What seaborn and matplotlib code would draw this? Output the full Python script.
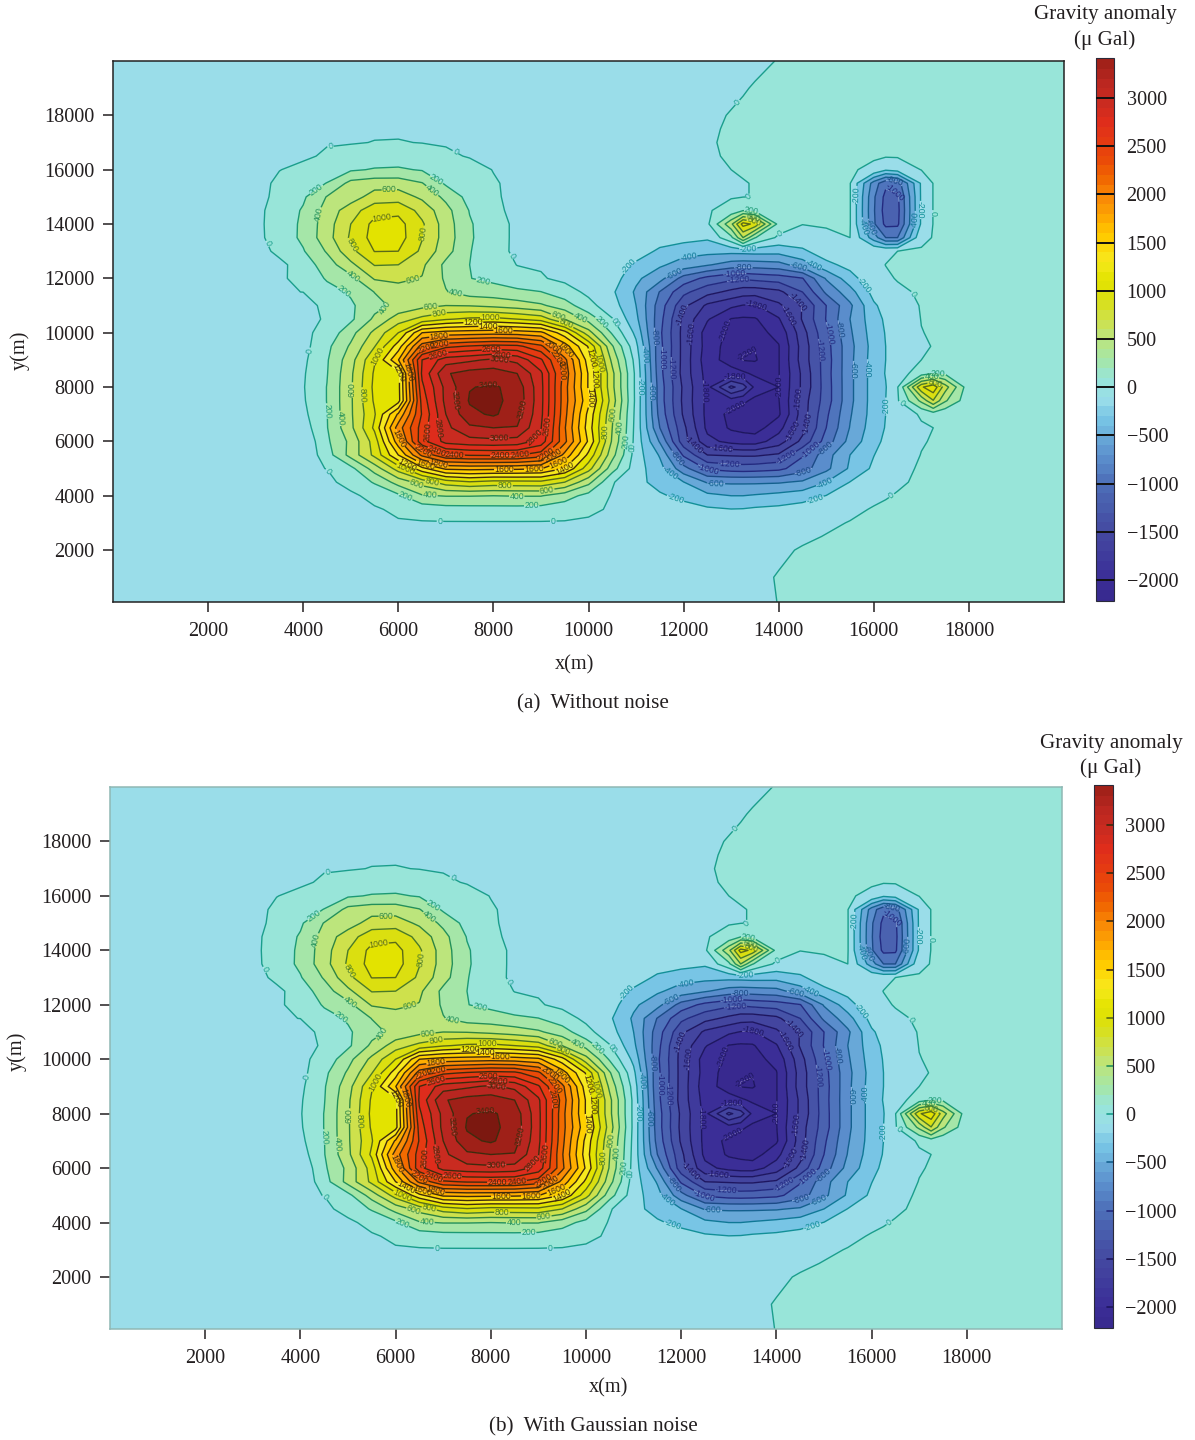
"""Gravity anomaly maps: without noise and with Gaussian noise."""

import numpy as np
import matplotlib
matplotlib.use("Agg")
import matplotlib.pyplot as plt
from matplotlib.cm import ScalarMappable
from matplotlib.colors import Normalize
import seaborn as sns

# sample positions (m)
grid_x = [0, 1500, 3000, 3500, 4000, 4500, 5000, 5500, 6000, 6500, 7000, 7500, 8000,
          8500, 9000, 9500, 10000, 10500, 11000, 11500, 12000, 12500, 13000, 13250,
          13500, 14000, 14500, 15000, 15500, 16000, 16250, 16500, 17000, 17250, 17500,
          18000, 18500, 19250, 20000]
grid_y = [20000, 19000, 18000, 17500, 17000, 16500, 16000, 15500, 15000, 14500, 14000,
          13500, 13000, 12500, 12000, 11500, 11000, 10500, 10000, 9500, 9000, 8500,
          8000, 7500, 7000, 6500, 6000, 5500, 5000, 4500, 4000, 3500, 3000, 2500, 2000,
          1000, 0]

# gravity anomaly (micro Gal), estimated from the contour lines, one row per grid_y
anomaly = [
    [-15] * 25 + [3] + [15] * 13,
    [-15] * 23 + [-5, 5] + [15] * 14,
    [-15] * 22 + [4, 12] + [15] * 15,
    [-15] * 21 + [-11, 9, 15] + [15] * 15,
    [-15, -15, -15, -15, -15, -12, -8, 3, 5, -3, -12, -15, -15, -15, -15, -15, -15, -15, -15] + [-15, -15, -8, 12] + [15] * 16,
    [-15, -15, -15, -15, -30, 25, 55, 90, 95, 65, 25, -10, -15, -15, -15, -15, -15, -15, -15] + [-15, -15, -11, 9] + [15] * 16,
    [-15, -15, -15, -5, 50, 110, 175, 215, 225, 185, 120, 60, -5, -15, -15, -15, -15, -15, -15] + [-15, -15, -15, 0, 10, 15, 15, 15, 15, 15, -30, -170, -120, 5] + [15] * 6,
    [-15, -15, -80, 45, 120, 205, 460, 510, 510, 410, 170, 90, 15, -40, -15, -15, -15, -15, -15] + [-15, -15, -15, -15, -5, 5, 15, 15, 15, 8, -690, -950, -900, -170, 5] + [15] * 5,
    [-15, -15, -70, 55, 170, 410, 500, 690, 700, 560, 350, 130, 50, -100, -15, -15, -15, -15, -15] + [-15, -15, -15, -10, -3, 3, 15, 15, 15, 10, -770, -1060, -1040, -170, 5] + [15] * 5,
    [-15, -15, -50, 80, 220, 480, 710, 920, 950, 730, 470, 190, 70, -80, -15, -15, -15, -15, -15] + [-15, -15, -15, 60, 190, 150, 15, 15, 15, 10, -780, -1090, -1060, -170, 5] + [15] * 5,
    [-15, -15, -50, 90, 235, 510, 800, 1060, 1070, 830, 500, 220, 80, -40, -15, -15, -15, -15, -15] + [-15, -15, -40, 550, 1080, 950, 130, 3, 15, 10, -770, -1050, -1040, -170, 5] + [15] * 5,
    [-15, -15, -52, 85, 240, 520, 830, 1080, 1090, 810, 510, 225, 80, -40, -15, -15, -15, -15, -20] + [-40, -120, -170, 150, 600, 210, -40, -60, -35, 0, -500, -800, -800, -30, 5] + [15] * 5,
    [-15, -15, -89, 50, 185, 420, 740, 1005, 1000, 760, 480, 210, 75, -40, -15, -15, -15, -15, -30] + [-260, -330, -340, -340, -330, -320, -330, -240, -80, -30, -20, -15, 0, 12] + [15] * 6,
    [-15, -15, -15, -50, 95, 300, 550, 810, 800, 640, 350, 200, 110, -5, -15, -15, -15, -30, -260] + [-370, -480, -580, -690, -710, -700, -670, -500, -260, -130, -20, 1, 8] + [15] * 7,
    [-15, -15, -15, -15, 30, 225, 340, 620, 650, 590, 370, 205, 150, 80, 15, -40, -15, -100, -360] + [-530, -880, -1060, -1150, -1170, -1140, -1100, -1010, -580, -290, -30, -10, 4] + [15] * 7,
    [-15, -15, -15, -15, 2, 115, 225, 405, 505, 500, 410, 310, 290, 240, 205, 80, -40, -170, -430] + [-810, -1150, -1330, -1450, -1510, -1520, -1450, -1200, -760, -480, -130, -40, -12, 8] + [15] * 6,
    [-15, -15, -15, -15, -110, 75, 170, 330, 460, 540, 600, 590, 550, 500, 430, 300, 60, -110, -400] + [-900, -1350, -1640, -1760, -1810, -1820, -1640, -1390, -1000, -640, -230, -130, -70, 8] + [15] * 6,
    [-15, -15, -15, -15, -55, 20, 160, 440, 700, 860, 980, 1040, 1060, 1000, 920, 600, 330, 10, -350] + [-930, -1460, -1780, -2010, -2030, -2020, -1820, -1380, -990, -600, -280, -170, -90, 3, 12] + [15] * 5,
    [-15, -15, -15, -25, -40, 60, 330, 650, 1000, 1600, 1680, 1700, 1720, 1700, 1650, 1280, 680, 170, -250] + [-960, -1470, -1900, -2040, -2060, -2060, -1950, -1480, -1040, -630, -300, -190, -130, -3, 10] + [15] * 5,
    [-15, -15, -15, -25, -65, 150, 430, 790, 1300, 2100, 2350, 2420, 2470, 2450, 2250, 1700, 1180, 420, -150] + [-940, -1470, -1890, -2090, -2180, -2190, -2010, -1520, -1080, -660, -320, -200, -130, -30, 8] + [15] * 5,
    [-15, -15, -15, -25, -40, 180, 520, 980, 1590, 2600, 2900, 2960, 3040, 2940, 2630, 2060, 1300, 550, -80] + [-950, -1470, -1920, -2080, -2210, -2220, -2010, -1510, -1100, -650, -310, -200, -110, 0, 12] + [15] * 5,
    [-15, -15, -15, -25, -21, 190, 560, 1030, 1130, 2640, 3180, 3280, 3300, 3200, 2840, 2120, 1380, 650, -50] + [-930, -1480, -1880, -1920, -1960, -2040, -2010, -1560, -1090, -650, -310, -190, -90, 100, 195, 170, 15, 15, 15, 15],
    [-15, -15, -15, -25, -13, 205, 570, 1050, 1130, 2560, 3060, 3390, 3430, 3320, 2860, 2080, 1380, 650, -50] + [-900, -1440, -1860, -1350, -1500, -1850, -2000, -1560, -1100, -650, -310, -210, -10, 970, 1150, 690, 70, 15, 15, 15],
    [-15, -15, -15, -25, -22, 205, 570, 1030, 1120, 2480, 3060, 3420, 3440, 3340, 2860, 2080, 1450, 700, -50] + [-900, -1450, -1860, -1880, -1950, -2060, -2010, -1500, -1100, -650, -310, -200, -20, 450, 790, 430, 60, 15, 15, 15],
    [-15, -15, -15, -25, -49, 195, 570, 980, 1630, 2420, 3000, 3350, 3430, 3280, 2850, 2060, 1340, 630, -60] + [-870, -1430, -1860, -2060, -2130, -2160, -2030, -1500, -1040, -620, -310, -200, -120, 25, 100, 40, 15, 15, 15, 15],
    [-15, -15, -15, -25, -98, 190, 550, 1040, 1900, 2490, 2950, 3160, 3200, 3190, 2810, 2020, 1300, 600, -70] + [-800, -1350, -1850, -2030, -2060, -2090, -1870, -1480, -1000, -590, -290, -190, -100, -25, 0, 10, 15, 15, 15, 15],
    [-15, -15, -15, -25, -170, 165, 450, 890, 1720, 2530, 2870, 2930, 2950, 2920, 2720, 2050, 1370, 570, -80] + [-620, -1320, -1740, -1860, -1890, -1890, -1700, -1340, -910, -530, -260, -160, -90, -8, 8, 15, 15, 15, 15, 15],
    [-15, -15, -15, -25, -165, 110, 470, 850, 1400, 2050, 2370, 2420, 2430, 2420, 2300, 1740, 1150, 470, -100] + [-420, -1030, -1400, -1420, -1430, -1430, -1370, -1020, -680, -400, -205, -120, -60, 3, 10, 15, 15, 15, 15, 15],
    [-15, -15, -15, -20, -20, 2, 140, 490, 890, 1340, 1640, 1660, 1650, 1640, 1610, 1390, 880, 280, -110] + [-330, -730, -1030, -1090, -1100, -1090, -1050, -890, -650, -370, -160, -80, -25, 10] + [15] * 6,
    [-15, -15, -15, -20, -20, -40, 60, 220, 480, 680, 900, 980, 930, 940, 950, 800, 460, 15, -130] + [-280, -395, -620, -630, -630, -630, -620, -570, -400, -195, -80, -40, -10, 12] + [15] * 6,
    [-15, -15, -15, -20, -20, -20, -33, 50, 160, 380, 410, 410, 400, 410, 410, 290, 130, -15, -50] + [-170, -260, -350, -400, -400, -380, -340, -290, -195, -90, -15, -5, 5] + [15] * 7,
    [-15, -15, -15, -15, -15, -15, -15, -18, 30, 80, 120, 125, 130, 130, 120, 80, 20, -12, -20] + [-60, -110, -170, -195, -190, -170, -150, -110, -60, -15, 5, 12] + [15] * 8,
    [-15, -15, -15, -15, -15, -15, -15, -15, -15, -15, -15, -15, -15, -15, -15, -15, -15, -15, -15] + [-30, -60, -75, -90, -85, -70, -60, -30, -12, 3, 12] + [15] * 9,
    [-15] * 19 + [-15] * 7 + [-12, 3] + [15] * 11,
    [-15] * 19 + [-15] * 6 + [-12, 6] + [15] * 12,
    [-15] * 19 + [-15] * 6 + [4] + [15] * 13,
    [-15] * 19 + [-15] * 6 + [1] + [15] * 13,
]

# filled bands, one colour per 200 step from -2400 to 3600
fill_levels = np.arange(-2400, 3601, 200)
band_colors = ["#36278C", "#38298F", "#3B2E97", "#3F3A9C", "#43459F", "#4653A7", "#4A62B0",
               "#4F74BC", "#5A8DCC", "#68A8D8", "#78C5E5", "#9ADDE9", "#98E5D9", "#A5E6A8",
               "#BCE57C", "#CEE14C", "#DBDF10", "#E3E300", "#F7E91E", "#FFD000", "#FFAE00",
               "#F98C06", "#F26B00", "#EA4A08", "#E53A12", "#DE2C1C", "#C92B20", "#B82620",
               "#9F2018", "#7C1810"]

# contour lines
line_levels = np.arange(-2200, 3401, 200)
line_colors = ["#1E1660"] * 5 + ["#232A80"] * 2 + ["#1B4A86", "#14608E", "#0F7896", "#129098",
               "#1A9E8C", "#1C9A74", "#23905A", "#2E8442", "#4A7A28", "#5A6A18"] + ["#3F2A0C"] * 12

x_ticks = list(range(2000, 18001, 2000))
y_ticks = list(range(2000, 18001, 2000))
cbar_ticks = [-2000, -1500, -1000, -500, 0, 500, 1000, 1500, 2000, 2500, 3000]

# contour label spots, in pixels of panel (a), left body then right bodies
label_spots_left = [
    (243, 62), (613, 73), (48, 343), (782, 380), (182, 663), (225, 1030), (570, 1170), (910, 1177),
    (1155, 950), (1100, 580), (203, 183), (560, 148), (272, 500), (697, 467), (228, 843), (465, 1103),
    (845, 1130), (1130, 935), (1055, 575), (215, 255), (542, 188), (403, 530), (615, 502), (272, 865),
    (540, 1093), (800, 1102), (1115, 893), (993, 560), (418, 183), (315, 430), (488, 443), (543, 538),
    (307, 780), (500, 1062), (890, 1078), (1098, 855), (925, 557), (297, 350), (523, 310), (568, 557),
    (335, 795), (547, 1057), (765, 1070), (1073, 905), (950, 580), (395, 257), (385, 680), (465, 1020),
    (720, 565), (945, 1020), (1045, 700), (670, 578), (1020, 685), (475, 1000), (930, 1008), (715, 590),
    (1025, 745), (525, 1005), (852, 1020), (760, 600), (1010, 805), (565, 1005), (762, 1020), (568, 622),
    (940, 665), (452, 923), (908, 975), (530, 655), (905, 655), (520, 960), (890, 975), (570, 650),
    (560, 965), (810, 980), (920, 690), (565, 670), (925, 725), (615, 967), (750, 972), (725, 660),
    (535, 905), (900, 890), (755, 678), (560, 895), (848, 915), (748, 695), (600, 810), (748, 925),
    (828, 840), (715, 762), (445, 730), (475, 725),
]
label_spots_right = [
    (383, 128), (425, 415), (513, 528), (742, 405), (955, 460), (905, 705), (880, 1022), (848, 1312),
    (18, 790), (73, 1160), (57, 618), (762, 677), (415, 570), (830, 1040), (612, 1308), (195, 1320),
    (90, 980), (235, 592), (610, 617), (775, 925), (640, 1255), (172, 1250), (100, 885), (193, 643),
    (565, 628), (733, 930), (585, 1245), (318, 1270), (128, 995), (400, 625), (688, 808), (652, 1170),
    (200, 1195), (140, 830), (375, 648), (655, 820), (607, 1178), (295, 1220), (165, 895), (385, 665),
    (638, 870), (530, 1195), (358, 1213), (190, 925), (560, 730), (232, 770), (600, 1090), (255, 1150),
    (545, 760), (250, 820), (550, 1115), (335, 1165), (440, 735), (278, 995), (560, 1015), (335, 808),
    (513, 980), (375, 1042), (403, 855), (425, 455), (430, 473), (432, 490), (855, 365), (857, 392),
    (768, 495), (785, 500), (908, 480), (930, 450), (985, 943), (965, 950), (975, 968), (375, 950),
]

W, H = 1195, 1440
TEXT = "#231F20"
SERIF = "Liberation Serif"

sns.set_style("white")
plt.rcParams["font.family"] = SERIF
plt.rcParams["font.size"] = 14.6


def px_axes(fig, left, top, right, bottom):
    return fig.add_axes([left / W, 1 - bottom / H, (right - left) / W, (bottom - top) / H])


def spots_to_data(box, dx, dy):
    left, top, right, bottom = box
    pts = []
    for zx, zy in label_spots_left:
        pts.append((250 + zx / 3 + dx, 130 + zy / 3 + dy))
    for zx, zy in label_spots_right:
        pts.append((610 + zx / 3 + dx, 60 + zy / 3 + dy))
    out = []
    for px, py in pts:
        out.append(((px - left) / (right - left) * 20000,
                    90 + (bottom - py) / (bottom - top) * 19910))
    return out


def draw_panel(fig, box, cbox, spine_color, strong_ticks, dx, dy):
    ax = px_axes(fig, *box)
    ax.contourf(grid_x, grid_y, anomaly, levels=fill_levels, colors=band_colors, antialiased=True)
    cs = ax.contour(grid_x, grid_y, anomaly, levels=line_levels, colors=line_colors, linewidths=1.0)
    ax.set_xlim(0, 20000)
    ax.set_ylim(90, 20000)
    ax.clabel(cs, fmt="%d", fontsize=6.3, inline=True, inline_spacing=1,
              manual=spots_to_data(box, dx, dy))
    for t in ax.texts:
        t.set_family("Liberation Sans")

    ax.set_xticks(x_ticks)
    ax.set_yticks(y_ticks)
    ax.tick_params(direction="out", length=7.2, width=1.1, colors=TEXT, labelsize=14.6,
                   bottom=True, left=True)
    ax.tick_params(axis="x", pad=7.5)
    ax.tick_params(axis="y", pad=6)
    for s in ax.spines.values():
        s.set_color(spine_color)
        s.set_linewidth(1.1)
        s.set_visible(True)

    # colour bar with 100 wide steps
    cax = px_axes(fig, *cbox)
    cmap = sns.blend_palette(band_colors, n_colors=60, as_cmap=True)
    sm = ScalarMappable(norm=Normalize(-2400, 3600), cmap=cmap)
    bounds = np.r_[-2218, np.arange(-2200, 3401, 100), 3415]
    cb = fig.colorbar(sm, cax=cax, boundaries=bounds, ticks=cbar_ticks, spacing="proportional")
    cb.outline.set_edgecolor("#2A2A3A")
    cb.outline.set_linewidth(0.8)
    cax.tick_params(length=0, pad=9, labelsize=14.6, labelcolor=TEXT, right=True)
    for v in cbar_ticks:
        if strong_ticks:
            cax.axhline(v, color="#111111", lw=1.4, zorder=5)
        else:
            cax.axhline(v, xmin=0.68, xmax=1, color=line_colors[(v + 2200) // 200], lw=1.2, zorder=5)
    return ax


fig = plt.figure(figsize=(W / 100, H / 100), dpi=100)

draw_panel(fig, (113, 61, 1064, 602), (1096, 58, 1114, 601), "#222222", True, 0, 0)
draw_panel(fig, (110, 787, 1062, 1329), (1094, 785, 1113, 1328), "#8FB8B4", False, -3, 726)


def px_text(x, y, s, size=14.6, **kw):
    fig.text(x / W, 1 - y / H, s, ha="center", va="center", color=TEXT, fontsize=size, **kw)


px_text(575, 665, "x(m)")
px_text(593, 704, "(a)  Without noise", size=15.2)
px_text(20, 350, "y(m)", rotation=90)
px_text(1105, 15, "Gravity anomaly", size=15.2)
px_text(1105, 40, "(\u03bc Gal)", size=15.2)

px_text(609, 1388, "x(m)")
px_text(593, 1427, "(b)  With Gaussian noise", size=15.2)
px_text(17, 1051, "y(m)", rotation=90)
px_text(1111, 743, "Gravity anomaly", size=15.2)
px_text(1111, 768, "(\u03bc Gal)", size=15.2)

fig.savefig("out.png", dpi=100)
